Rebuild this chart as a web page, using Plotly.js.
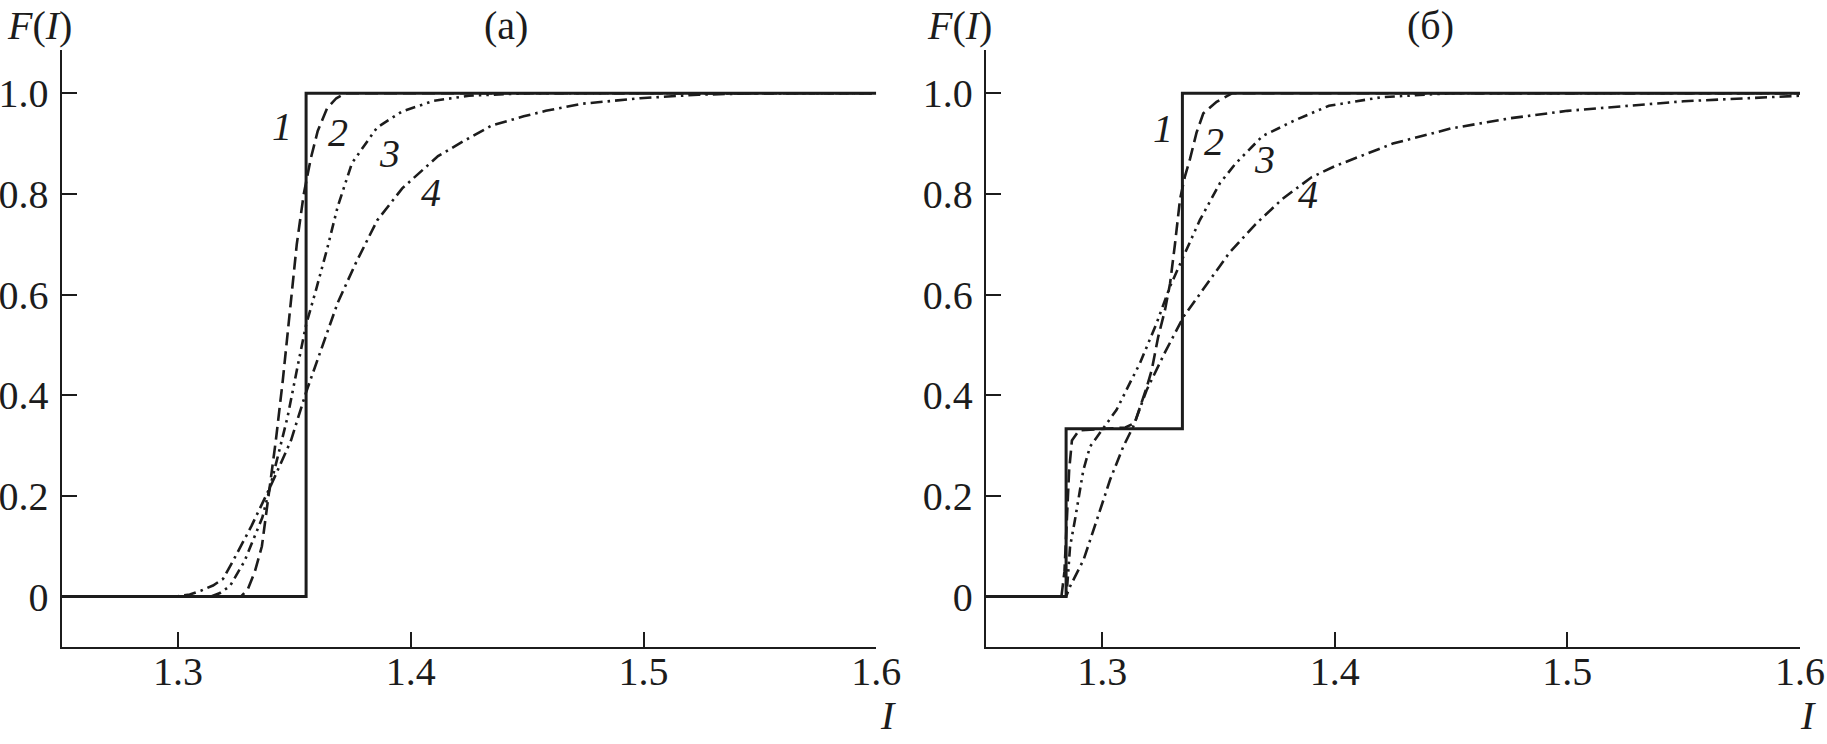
<!DOCTYPE html>
<html>
<head>
<meta charset="utf-8">
<script src="https://cdn.plot.ly/plotly-3.0.1.min.js"></script>
<style>
  html, body { margin: 0; padding: 0; background: #fff; }
  #chart { width: 1827px; height: 744px; }
</style>
</head>
<body>
<div id="chart"></div>
<script>
// ---- tick labels ----
const xTickVals = [1.3, 1.4, 1.5, 1.6];
const xTickText = ['1.3', '1.4', '1.5', '1.6'];
const yTickVals = [0, 0.2, 0.4, 0.6, 0.8, 1.0];
const yTickText = ['0', '0.2', '0.4', '0.6', '0.8', '1.0'];

// ---- panel (a) ----
const a1X = [1.25, 1.355, 1.355, 1.6];
const a1Y = [0, 0, 1, 1];
const a2X = [1.25, 1.327, 1.330, 1.333, 1.336, 1.339, 1.342, 1.345, 1.348, 1.351, 1.354, 1.357, 1.360, 1.364, 1.368, 1.372, 1.6];
const a2Y = [0, 0, 0.015, 0.05, 0.10, 0.20, 0.31, 0.43, 0.57, 0.70, 0.80, 0.87, 0.925, 0.97, 0.99, 1.0, 1.0];
const a3X = [1.25, 1.314, 1.318, 1.3223, 1.3285, 1.3362, 1.3424, 1.347, 1.3516, 1.355, 1.3593, 1.364, 1.3686, 1.3747, 1.3855, 1.3963, 1.41, 1.425, 1.45, 1.6];
const a3Y = [0, 0, 0.007, 0.021, 0.07, 0.157, 0.27, 0.356, 0.463, 0.54, 0.61, 0.69, 0.775, 0.861, 0.932, 0.964, 0.985, 0.995, 1.0, 1.0];
const a4X = [1.25, 1.299, 1.305, 1.31, 1.315, 1.3193, 1.3235, 1.3315, 1.34, 1.3485, 1.355, 1.3609, 1.3686, 1.3763, 1.3855, 1.3963, 1.4117, 1.4235, 1.4348, 1.4485, 1.458, 1.4735, 1.4985, 1.5235, 1.55, 1.6];
const a4Y = [0, 0, 0.004, 0.012, 0.022, 0.035, 0.07, 0.14, 0.222, 0.31, 0.406, 0.484, 0.584, 0.662, 0.747, 0.811, 0.875, 0.907, 0.936, 0.954, 0.965, 0.979, 0.99, 0.997, 1.0, 1.0];

// ---- panel (б) ----
const b1X = [1.25, 1.2845, 1.2845, 1.3345, 1.3345, 1.6];
const b1Y = [0, 0, 0.3333, 0.3333, 1, 1];
const b2X = [1.25, 1.2825, 1.2838, 1.2848, 1.2858, 1.287, 1.29, 1.30, 1.31, 1.314, 1.3173, 1.3191, 1.3213, 1.3241, 1.327, 1.3292, 1.3313, 1.3335, 1.3356, 1.3378, 1.3406, 1.3435, 1.3492, 1.356, 1.6];
const b2Y = [0, 0, 0.05, 0.15, 0.25, 0.31, 0.33, 0.333, 0.336, 0.345, 0.39, 0.415, 0.45, 0.516, 0.569, 0.622, 0.7, 0.79, 0.835, 0.87, 0.922, 0.96, 0.983, 1.0, 1.0];
const b3X = [1.25, 1.2843, 1.2848, 1.2862, 1.2883, 1.2905, 1.2919, 1.2948, 1.3005, 1.3062, 1.312, 1.3162, 1.3234, 1.3292, 1.3349, 1.342, 1.3506, 1.3575, 1.369, 1.3832, 1.3975, 1.42, 1.45, 1.6];
const b3Y = [0, 0, 0.01, 0.099, 0.152, 0.212, 0.251, 0.298, 0.334, 0.371, 0.425, 0.463, 0.543, 0.616, 0.675, 0.748, 0.821, 0.861, 0.915, 0.947, 0.975, 0.992, 1.0, 1.0];
const b4X = [1.25, 1.2845, 1.2862, 1.292, 1.2977, 1.3034, 1.3091, 1.3134, 1.3191, 1.327, 1.335, 1.3447, 1.3547, 1.366, 1.3775, 1.39, 1.40, 1.425, 1.45, 1.475, 1.50, 1.55, 1.6];
const b4Y = [0, 0, 0.02, 0.073, 0.152, 0.232, 0.298, 0.338, 0.41, 0.485, 0.556, 0.619, 0.683, 0.74, 0.79, 0.833, 0.855, 0.90, 0.93, 0.95, 0.965, 0.984, 0.995];

// ---- curve labels ----
const curveLabels = ['1', '2', '3', '4'];
const aLabelX = [1.3448, 1.3687, 1.3909, 1.4088];
const aLabelY = [0.934, 0.921, 0.881, 0.802];
const bLabelX = [1.3263, 1.3481, 1.3700, 1.3885];
const bLabelY = [0.930, 0.904, 0.868, 0.799];

const INK = '#1c1c1c';
const FONT = '"Liberation Serif", serif';

const styles = [
  {width: 3, dash: 'solid'},
  {width: 2.6, dash: '13px,6px'},
  {width: 2.6, dash: '10px,5px,2.5px,5px,2.5px,5px'},
  {width: 2.6, dash: '12px,5px,2.5px,5px'}
];

function tr(x, y, i, xa, ya) {
  return {x: x, y: y, mode: 'lines', xaxis: xa, yaxis: ya, hoverinfo: 'skip',
          line: {color: INK, width: styles[i].width, dash: styles[i].dash}, showlegend: false};
}

const data = [
  tr(a4X, a4Y, 3, 'x', 'y'), tr(a3X, a3Y, 2, 'x', 'y'), tr(a2X, a2Y, 1, 'x', 'y'), tr(a1X, a1Y, 0, 'x', 'y'),
  tr(b4X, b4Y, 3, 'x2', 'y2'), tr(b3X, b3Y, 2, 'x2', 'y2'), tr(b2X, b2Y, 1, 'x2', 'y2'), tr(b1X, b1Y, 0, 'x2', 'y2')
];

const tickFont = {family: FONT, size: 40, color: INK};
function xAxis(domain, anchor) {
  return {domain: domain, anchor: anchor, range: [1.25, 1.6], showline: true, linewidth: 2.2, linecolor: INK,
          ticks: 'inside', ticklen: 15, tickwidth: 2, tickcolor: INK, tickvals: xTickVals, ticktext: xTickText,
          ticklabelstandoff: -12, ticklabeloverflow: 'allow',
          tickfont: tickFont, showgrid: false, zeroline: false, fixedrange: true};
}
function yAxis(domain, anchor) {
  return {domain: domain, anchor: anchor, range: [-0.1, 1.086], showline: true, linewidth: 2.2, linecolor: INK,
          ticks: 'inside', ticklen: 15, tickwidth: 2, tickcolor: INK, tickvals: yTickVals, ticktext: yTickText,
          ticklabelstandoff: 3, ticklabeloverflow: 'allow',
          tickfont: tickFont, showgrid: false, zeroline: false, fixedrange: true};
}

const annFont = {family: FONT, size: 40, color: INK};
const annotations = [];
function ann(xref, yref, x, y, text) {
  annotations.push({xref: xref, yref: yref, x: x, y: y, text: text, showarrow: false,
                    xanchor: 'center', yanchor: 'middle', borderpad: 0, font: annFont});
}
curveLabels.forEach((t, i) => {
  ann('x', 'y', aLabelX[i], aLabelY[i], '<i>' + t + '</i>');
  ann('x2', 'y2', bLabelX[i], bLabelY[i], '<i>' + t + '</i>');
});
ann('x', 'paper', 1.441, 0.966, '(a)');
ann('x2', 'paper', 1.441, 0.966, '(б)');
ann('paper', 'paper', 0.0215, 0.966, '<i>F</i>(<i>I</i>)');
ann('paper', 'paper', 0.525, 0.966, '<i>F</i>(<i>I</i>)');
ann('paper', 'paper', 0.486, 0.038, '<i>I</i>');
ann('paper', 'paper', 0.9896, 0.038, '<i>I</i>');

const yDom = [0.1305, 0.9329];
const layout = {
  width: 1827, height: 744,
  margin: {l: 0, r: 0, t: 0, b: 0},
  paper_bgcolor: '#fff', plot_bgcolor: '#fff',
  font: {family: FONT, color: INK},
  xaxis: xAxis([0.0338, 0.4796], 'y'),
  yaxis: yAxis(yDom, 'x'),
  xaxis2: xAxis([0.5396, 0.9852], 'y2'),
  yaxis2: yAxis(yDom, 'x2'),
  annotations: annotations,
  showlegend: false
};

Plotly.newPlot('chart', data, layout, {displayModeBar: false, staticPlot: true});
</script>
</body>
</html>
